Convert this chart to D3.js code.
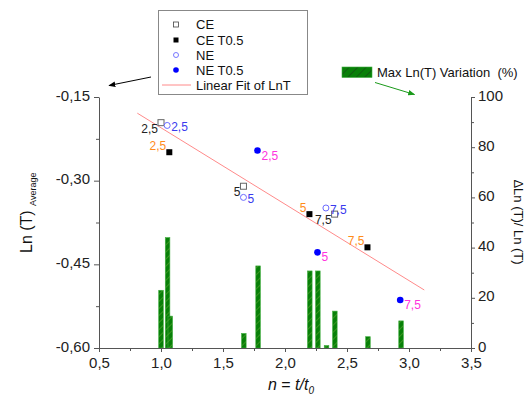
<!DOCTYPE html>
<html><head><meta charset="utf-8">
<script src="https://cdn.jsdelivr.net/npm/d3@7"></script>
<style>
body{margin:0;background:#fff;}
svg{font-family:"Liberation Sans",Arial,sans-serif;}
</style></head><body>
<svg id="c" width="527" height="398"></svg>
<script>
// ---- data ----
const xTicks = [0.5, 1.0, 1.5, 2.0, 2.5, 3.0, 3.5];
const yLeftTicks = [-0.60, -0.45, -0.30, -0.15];
const yRightTicks = [0, 20, 40, 60, 80, 100];

const ceX = [1.00, 1.665, 2.40];
const ceY = [-0.196, -0.310, -0.360];
const ceLabels = ["2,5", "5", "7,5"];

const neX = [1.05, 1.665, 2.33];
const neY = [-0.201, -0.330, -0.349];
const neLabels = ["2,5", "5", "7,5"];

const ceTX = [1.067, 2.197, 2.665];
const ceTY = [-0.249, -0.360, -0.4195];
const ceTLabels = ["2,5", "5", "7,5"];

const neTX = [1.778, 2.262, 2.929];
const neTY = [-0.246, -0.4285, -0.514];
const neTLabels = ["2,5", "5", "7,5"];

const fitX = [0.809, 3.123];
const fitY = [-0.179, -0.496];

const barX = [1.00, 1.053, 1.075, 1.668, 1.783, 2.20, 2.265, 2.335, 2.402, 2.669, 2.936];
const barV = [23, 44, 12.7, 5.8, 32.7, 30.7, 30.7, 1, 14.7, 4.5, 10.8];

// ---- layout ----
const svg = d3.select("#c");
const x = d3.scaleLinear().domain([0.5, 3.5]).range([99, 471]);
const yL = d3.scaleLinear().domain([-0.60, -0.15]).range([348, 97]);
const yR = d3.scaleLinear().domain([0, 100]).range([348, 97]);
const comma = (d, n) => d.toFixed(n).replace(".", ",");
const axisColor = "#555";

// hatch patterns
const defs = svg.append("defs");
const pat = defs.append("pattern").attr("id", "hatch").attr("patternUnits", "userSpaceOnUse")
  .attr("width", 5).attr("height", 5).attr("patternTransform", "rotate(45)");
pat.append("rect").attr("width", 5).attr("height", 5).attr("fill", "#088008");
pat.append("line").attr("x1", 0).attr("y1", 0).attr("x2", 0).attr("y2", 5)
  .attr("stroke", "#6aa83a").attr("stroke-width", 1);
const pat2 = defs.append("pattern").attr("id", "hatch2").attr("patternUnits", "userSpaceOnUse")
  .attr("width", 6).attr("height", 6).attr("patternTransform", "rotate(45)");
pat2.append("rect").attr("width", 6).attr("height", 6).attr("fill", "#088008");
pat2.append("line").attr("x1", 0).attr("y1", 0).attr("x2", 0).attr("y2", 6)
  .attr("stroke", "#1a3a1a").attr("stroke-width", 1);

// bars
const barW = 4.6;
const bars = barX.map((v, i) => ({x: v, v: barV[i]}));
svg.append("g").selectAll("rect").data(bars).join("rect")
  .attr("x", d => x(d.x) - barW / 2).attr("width", barW)
  .attr("y", d => yR(d.v)).attr("height", d => yR(0) - yR(d.v))
  .attr("fill", "url(#hatch)").attr("stroke", "#3fae3f").attr("stroke-width", 0.6);

// axes
function styleAxis(g) {
  g.selectAll("path").attr("stroke", axisColor);
  g.selectAll("line").attr("stroke", axisColor);
  g.selectAll("text").attr("fill", "#222").attr("font-size", 15)
   .attr("font-family", "Liberation Sans, Arial, sans-serif");
}
const xMinor = d3.range(0.75, 3.5, 0.5);
svg.append("g").attr("transform", "translate(0,348)")
  .call(d3.axisBottom(x).tickValues(xMinor).tickSize(3).tickFormat(""))
  .call(g => g.select("path").remove()).call(styleAxis);
svg.append("g").attr("transform", "translate(0,348)")
  .call(d3.axisBottom(x).tickValues(xTicks).tickSize(4).tickSizeOuter(0).tickPadding(5).tickFormat(d => comma(d, 1)))
  .call(styleAxis);

const yLMinor = [-0.525, -0.375, -0.225];
svg.append("g").attr("transform", "translate(99,0)")
  .call(d3.axisLeft(yL).tickValues(yLMinor).tickSize(3).tickFormat(""))
  .call(g => g.select("path").remove()).call(styleAxis);
svg.append("g").attr("transform", "translate(99,0)")
  .call(d3.axisLeft(yL).tickValues(yLeftTicks).tickSize(5).tickSizeOuter(0).tickPadding(4).tickFormat(d => comma(d, 2)))
  .call(styleAxis)
  .call(g => g.selectAll(".tick text").attr("dy", "0.2em"));

const yRMinor = [10, 30, 50, 70, 90];
svg.append("g").attr("transform", "translate(471,0)")
  .call(d3.axisRight(yR).tickValues(yRMinor).tickSize(3).tickFormat(""))
  .call(g => g.select("path").remove()).call(styleAxis);
svg.append("g").attr("transform", "translate(471,0)")
  .call(d3.axisRight(yR).tickValues(yRightTicks).tickSize(4).tickSizeOuter(0).tickPadding(3).tickFormat(d => d))
  .call(styleAxis)
  .call(g => g.selectAll(".tick text").attr("dy", "0.2em"));

// fit line
svg.append("path").datum(fitX.map((v, i) => [v, fitY[i]]))
  .attr("d", d3.line().x(d => x(d[0])).y(d => yL(d[1])))
  .attr("stroke", "#ff8a8a").attr("stroke-width", 1).attr("fill", "none");

// points
function series(xs, ys) { return xs.map((v, i) => ({x: v, y: ys[i]})); }
const gP = svg.append("g");
gP.selectAll(".ce").data(series(ceX, ceY)).join("rect")
  .attr("x", d => x(d.x) - 3).attr("y", d => yL(d.y) - 3).attr("width", 6).attr("height", 6)
  .attr("fill", "#fff").attr("stroke", "#666").attr("stroke-width", 1);
gP.selectAll(".ne").data(series(neX, neY)).join("circle")
  .attr("cx", d => x(d.x)).attr("cy", d => yL(d.y)).attr("r", 3)
  .attr("fill", "#fff").attr("stroke", "#6a6aff").attr("stroke-width", 1);
gP.selectAll(".cet").data(series(ceTX, ceTY)).join("rect")
  .attr("x", d => x(d.x) - 3).attr("y", d => yL(d.y) - 3).attr("width", 6).attr("height", 6)
  .attr("fill", "#000");
gP.selectAll(".net").data(series(neTX, neTY)).join("circle")
  .attr("cx", d => x(d.x)).attr("cy", d => yL(d.y)).attr("r", 3.3)
  .attr("fill", "#0000ff");

// point labels
function labels(xs, ys, txt, color, anchor, dx, dy) {
  svg.append("g").selectAll("text").data(xs.map((v, i) => ({x: v, y: ys[i], t: txt[i]}))).join("text")
    .attr("x", d => x(d.x) + dx).attr("y", d => yL(d.y) + dy)
    .attr("text-anchor", anchor).attr("font-size", 12).attr("fill", color).text(d => d.t);
}
labels(ceX, ceY, ceLabels, "#222", "end", -3, 10);
labels(neX, neY, neLabels, "#3a3aee", "start", 4, 6);
labels(ceTX, ceTY, ceTLabels, "#ff8c1a", "end", -3, -2);
labels(neTX, neTY, neTLabels, "#ff33dd", "start", 4, 9);

// legend box
const lg = svg.append("g");
lg.append("rect").attr("x", 158.5).attr("y", 10.5).attr("width", 149).attr("height", 84)
  .attr("fill", "#fff").attr("stroke", "#888").attr("stroke-width", 1);
const rows = [24.5, 40, 55, 70, 85];
const names = ["CE", "CE T0.5", "NE", "NE T0.5", "Linear Fit of LnT"];
lg.append("rect").attr("x", 173.5).attr("y", rows[0] - 2.5).attr("width", 5).attr("height", 5)
  .attr("fill", "#fff").attr("stroke", "#444").attr("stroke-width", 0.8);
lg.append("rect").attr("x", 173.5).attr("y", rows[1] - 2.5).attr("width", 5).attr("height", 5).attr("fill", "#000");
lg.append("circle").attr("cx", 176).attr("cy", rows[2]).attr("r", 2.5)
  .attr("fill", "#fff").attr("stroke", "#6a6aff").attr("stroke-width", 0.9);
lg.append("circle").attr("cx", 176).attr("cy", rows[3]).attr("r", 2.8).attr("fill", "#0000ff");
lg.append("line").attr("x1", 162).attr("x2", 191).attr("y1", rows[4]).attr("y2", rows[4])
  .attr("stroke", "#ff8a8a").attr("stroke-width", 1);
lg.selectAll(".lt").data(names).join("text")
  .attr("x", 196).attr("y", (d, i) => rows[i] + 4.6).attr("font-size", 13).attr("fill", "#111").text(d => d);

// black arrow
defs.append("marker").attr("id", "arrB").attr("viewBox", "0 0 10 10").attr("refX", 9).attr("refY", 5)
  .attr("markerWidth", 7).attr("markerHeight", 7).attr("orient", "auto")
  .append("path").attr("d", "M0,1 L10,5 L0,9 z").attr("fill", "#000");
svg.append("line").attr("x1", 151).attr("y1", 77).attr("x2", 109).attr("y2", 85.5)
  .attr("stroke", "#000").attr("stroke-width", 1).attr("marker-end", "url(#arrB)");

// green legend
svg.append("rect").attr("x", 342).attr("y", 67).attr("width", 30).attr("height", 10.5)
  .attr("fill", "url(#hatch2)").attr("stroke", "#3fae3f").attr("stroke-width", 0.6);
svg.append("text").attr("x", 377).attr("y", 77).attr("font-size", 13).attr("fill", "#111")
  .attr("xml:space", "preserve").style("white-space", "pre").text("Max Ln(T) Variation  (%)");
defs.append("marker").attr("id", "arrG").attr("viewBox", "0 0 10 10").attr("refX", 9).attr("refY", 5)
  .attr("markerWidth", 7).attr("markerHeight", 7).attr("orient", "auto")
  .append("path").attr("d", "M0,1 L10,5 L0,9 z").attr("fill", "#1a9a1a");
svg.append("line").attr("x1", 375).attr("y1", 82.5).attr("x2", 414.5).attr("y2", 94.5)
  .attr("stroke", "#1a9a1a").attr("stroke-width", 1).attr("marker-end", "url(#arrG)");

// axis titles
const lt = svg.append("text").attr("transform", "translate(32,253) rotate(-90)")
  .attr("font-size", 16).attr("fill", "#111");
lt.append("tspan").text("Ln (T) ");
lt.append("tspan").attr("font-size", 9).attr("dy", 4).text("Average");

svg.append("text").attr("transform", "translate(514,222) rotate(90)")
  .attr("text-anchor", "middle").attr("font-size", 13).attr("fill", "#111").text("ΔLn (T)/ Ln (T)");

const xt = svg.append("text").attr("x", 291).attr("y", 390).attr("text-anchor", "middle")
  .attr("font-size", 16).attr("fill", "#111");
xt.append("tspan").attr("font-style", "italic").text("n");
xt.append("tspan").text(" = ");
xt.append("tspan").attr("font-style", "italic").text("t/t");
xt.append("tspan").attr("font-style", "italic").attr("font-size", 10).attr("dy", 4).text("0");
</script>
</body></html>
